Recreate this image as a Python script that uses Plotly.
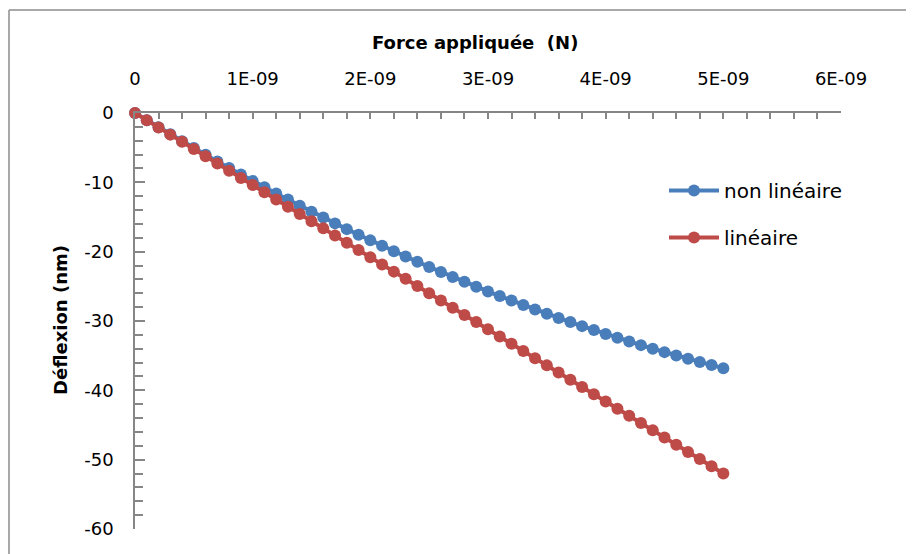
import plotly.graph_objects as go

force_N = [0, 1e-10, 2e-10, 3e-10, 4e-10, 5e-10, 6e-10, 7e-10, 8e-10, 9e-10,
           1.0e-09, 1.1e-09, 1.2e-09, 1.3e-09, 1.4e-09, 1.5e-09, 1.6e-09, 1.7e-09, 1.8e-09, 1.9e-09,
           2.0e-09, 2.1e-09, 2.2e-09, 2.3e-09, 2.4e-09, 2.5e-09, 2.6e-09, 2.7e-09, 2.8e-09, 2.9e-09,
           3.0e-09, 3.1e-09, 3.2e-09, 3.3e-09, 3.4e-09, 3.5e-09, 3.6e-09, 3.7e-09, 3.8e-09, 3.9e-09,
           4.0e-09, 4.1e-09, 4.2e-09, 4.3e-09, 4.4e-09, 4.5e-09, 4.6e-09, 4.7e-09, 4.8e-09, 4.9e-09,
           5.0e-09]

non_lineaire = [0, -1.03, -2.06, -3.07, -4.06, -5.05, -6.02, -6.98, -7.93, -8.87,
                -9.79, -10.70, -11.60, -12.49, -13.37, -14.23, -15.08, -15.92, -16.75, -17.57,
                -18.37, -19.16, -19.94, -20.70, -21.46, -22.20, -22.93, -23.65, -24.35, -25.05,
                -25.73, -26.40, -27.05, -27.70, -28.33, -28.95, -29.56, -30.16, -30.74, -31.31,
                -31.87, -32.42, -32.96, -33.48, -33.99, -34.49, -34.98, -35.45, -35.91, -36.36,
                -36.80]

lineaire = [0, -1.04, -2.08, -3.12, -4.16, -5.20, -6.24, -7.28, -8.32, -9.36,
            -10.40, -11.44, -12.48, -13.52, -14.56, -15.60, -16.64, -17.68, -18.72, -19.76,
            -20.80, -21.84, -22.88, -23.92, -24.96, -26.00, -27.04, -28.08, -29.12, -30.16,
            -31.20, -32.24, -33.28, -34.32, -35.36, -36.40, -37.44, -38.48, -39.52, -40.56,
            -41.60, -42.64, -43.68, -44.72, -45.76, -46.80, -47.84, -48.88, -49.92, -50.96,
            -52.00]

x_tickvals = [0, 1e-09, 2e-09, 3e-09, 4e-09, 5e-09, 6e-09]
x_ticktext = ["0", "1E-09", "2E-09", "3E-09", "4E-09", "5E-09", "6E-09"]
y_tickvals = [0, -10, -20, -30, -40, -50, -60]
y_ticktext = ["0", "-10", "-20", "-30", "-40", "-50", "-60"]

FONT = "DejaVu Sans"
AXC = "#868686"
BLUE = "#4A7EBB"
RED = "#BE4B48"

fig = go.Figure()
fig.add_trace(go.Scatter(x=force_N, y=non_lineaire, name="non linéaire", mode="lines+markers",
                         line=dict(color=BLUE, width=4),
                         marker=dict(color=BLUE, size=12, symbol="circle"),
                         legendgroup="a", cliponaxis=False))
fig.add_trace(go.Scatter(x=force_N, y=lineaire, name="linéaire", mode="lines+markers",
                         line=dict(color=RED, width=4),
                         marker=dict(color=RED, size=12, symbol="circle"),
                         legendgroup="b", cliponaxis=False))

# page has an 8px body margin; plot area in page pixels: x 135..841, y 113..529
OFF = 8
PL, PR, PT, PB = 135, 841, 113, 529
W, H = 914 - OFF, 554 - OFF
L, T = PL - OFF, PT - OFF
R, B = 914 - PR, 554 - PB
pw, ph = PR - PL, PB - PT

def px(x):
    return (x - PL) / pw

def py(y):
    return (PB - y) / ph

fig.update_layout(
    width=W, height=H,
    margin=dict(l=L, r=R, t=T, b=B, pad=0),
    paper_bgcolor="white", plot_bgcolor="white",
    font=dict(family=FONT, size=17, color="#000000"),
    showlegend=True,
    legend=dict(x=px(664), y=py(171), xanchor="left", yanchor="top",
                bgcolor="rgba(0,0,0,0)", tracegroupgap=18, itemwidth=50,
                font=dict(family=FONT, size=20, color="#000000")),
    xaxis=dict(side="top", range=[0, 6e-09], tickvals=x_tickvals, ticktext=x_ticktext,
               showgrid=False, zeroline=False, showline=True, linecolor=AXC, linewidth=1.5,
               ticks="inside", ticklen=6, tickcolor=AXC, tickwidth=1.5,
               ticklabelstandoff=19,
               minor=dict(dtick=2e-10, tick0=0, ticks="inside", ticklen=6, tickcolor=AXC, tickwidth=1.5, showgrid=False),
               tickfont=dict(family=FONT, size=18, color="#000000")),
    yaxis=dict(range=[-60, 0], tickvals=y_tickvals, ticktext=y_ticktext,
               showgrid=False, zeroline=False, showline=True, linecolor=AXC, linewidth=1.5,
               ticks="inside", ticklen=10, tickcolor=AXC, tickwidth=1.5,
               ticklabelstandoff=16,
               minor=dict(dtick=2, tick0=0, ticks="inside", ticklen=8, tickcolor=AXC, tickwidth=1.5, showgrid=False),
               tickfont=dict(family=FONT, size=18, color="#000000")),
    shapes=[
        dict(type="line", xref="paper", yref="paper", x0=px(9), x1=px(930), y0=py(10), y1=py(10),
             line=dict(color="#8C8C8C", width=1.5)),
        dict(type="line", xref="paper", yref="paper", x0=px(9), x1=px(9), y0=py(10), y1=py(570),
             line=dict(color="#8C8C8C", width=1.5)),
    ],
    annotations=[
        dict(text="<b>Force appliquée  (N)</b>", xref="paper", yref="paper", x=px(475), y=py(43),
             xanchor="center", yanchor="middle", showarrow=False,
             font=dict(family=FONT, size=18, color="#000000")),
        dict(text="<b>Déflexion (nm)</b>", xref="paper", yref="paper", x=px(60), y=py(320),
             xanchor="center", yanchor="middle", showarrow=False, textangle=-90,
             font=dict(family=FONT, size=18, color="#000000")),
    ],
)

fig.write_html("out.html")
